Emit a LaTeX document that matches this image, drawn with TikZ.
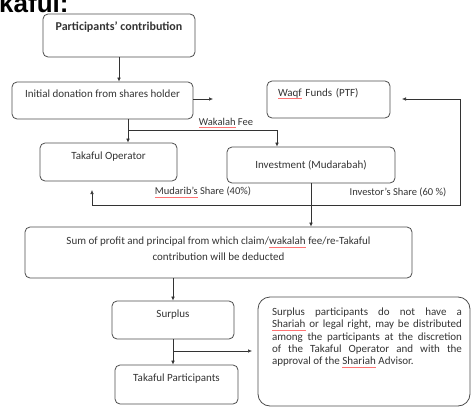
\documentclass[tikz,border=0pt]{standalone}
\usepackage{fontspec}
\setmainfont{Carlito}
\newfontfamily\headfont{Liberation Sans}
\usetikzlibrary{arrows.meta}
\newsavebox\spellbox
\newcommand\spellmark[1]{\sbox\spellbox{#1}\rlap{\textcolor{red!55}{\rule[-0.45ex]{\wd\spellbox}{0.4pt}}}\usebox\spellbox}

\begin{document}
\begin{tikzpicture}[x=1pt,y=1pt,yscale=-1,
  box/.style={draw=black!70,line width=0.8pt,rounded corners=5pt,inner sep=0pt,text=black!80,font=\fontsize{11}{13}\selectfont},
  uptext/.style={text height=8pt,text depth=14pt},
  lab/.style={inner sep=0.75pt,text=black!80,font=\fontsize{10.5}{12}\selectfont},
  arr/.style={draw=black!80,line width=0.6pt,-{Latex[length=4pt,width=3.6pt]}},
  link/.style={draw=black!80,line width=0.6pt}]
\useasboundingbox (0,0) rectangle (472,407);

% Text Node
\node[anchor=base west,inner sep=0pt,font=\headfont\bfseries\fontsize{26}{28}\selectfont] (title) at (-1,12) {kaful:};

% Shape: Boxes
\node[box,minimum width=152pt,minimum height=43pt,text height=8pt,text depth=19pt,font=\bfseries\fontsize{12}{14}\selectfont] (contrib) at (119,35.5) {Participants’ contribution};
\node[box,uptext,minimum width=181pt,minimum height=37pt] (donation) at (102.5,100.5) {Initial donation from shares holder};
\node[box,uptext,minimum width=123pt,minimum height=37pt,text width=101pt,align=left] (waqf) at (328.5,99.5) {\spellmark{Waqf} Funds (PTF)};
\node[box,uptext,minimum width=137pt,minimum height=38pt] (operator) at (108.5,162) {Takaful Operator};
\node[box,minimum width=168pt,minimum height=36pt] (invest) at (311,165) {Investment (Mudarabah)};
\node[box,minimum width=387pt,minimum height=51pt] (sum) at (218.5,252.5) {};
\node[box,uptext,minimum width=122pt,minimum height=38pt] (surplus) at (173,320) {Surplus};
\node[box,uptext,minimum width=123pt,minimum height=39pt] (partic) at (176.5,384.5) {Takaful Participants};
\node[box,rounded corners=12pt,minimum width=212pt,minimum height=109pt] (note) at (364,351.5) {};

% Text Node
\node[inner sep=0pt,align=center,text=black!80,font=\fontsize{11}{16}\selectfont] (sumtxt) at (218.5,249) {Sum of profit and principal from which claim/\spellmark{wakalah} fee/re-Takaful\\contribution will be deducted};
% Text Node
\node[inner sep=0pt,text width=190pt,align=justify,text=black!80,font=\fontsize{11}{12.3}\selectfont] (notetxt) at (367,337.5) {Surplus participants do not have a\linebreak \spellmark{Shariah} or legal right, may be distributed\linebreak among the participants at the discretion\linebreak of the Takaful Operator and with the\linebreak approval of the \spellmark{Shariah} Advisor.};

% Text Node
\node[lab] (wakfee) at (226,123) {\spellmark{Wakalah} Fee};
\node[lab] (mudshare) at (203,192) {\spellmark{Mudarib’s} Share (40\%)};
\node[lab] (invshare) at (398,192) {Investor’s Share (60 \%)};

% Coordinates
\coordinate (donend) at (213,99);
\coordinate (wkl) at (128,130);
\coordinate (wkr) at (277,130);
\coordinate (split) at (311,205);
\coordinate (opend) at (92,190);
\coordinate (rtturn) at (460,99);
\coordinate (waqfend) at (402,99);
\coordinate (sjy) at (0,351);
\coordinate (noteend) at (252,351);

% Connection
\draw[arr] (contrib.south) -- (contrib.south |- donation.north);
\draw[arr] (donation.east |- donend) -- (donend);
\draw[arr] (donation.south -| wkl) -- (operator.north -| wkl);
\draw[link] (wkl) -- (wkr);
\draw[arr] (wkr) -- (wkr |- invest.north);
\draw[arr] (invest.south) -- (invest.south |- sum.north);
\draw[arr] (split) -| (opend);
\draw[arr] (split) -| (rtturn) -- (waqfend);
\draw[arr] (surplus.north |- sum.south) -- (surplus.north);
\draw[arr] (surplus.south) -- (surplus.south |- partic.north);
\draw[arr] (surplus.south |- sjy) -- (noteend);

\end{tikzpicture}
\end{document}
